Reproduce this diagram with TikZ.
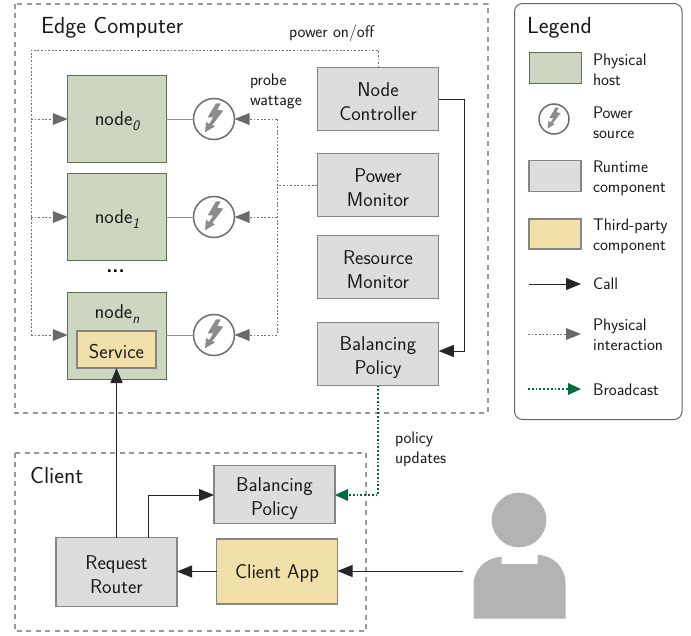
\documentclass[tikz,border=0pt]{standalone}
\usepackage{fontspec}
\setsansfont{Latin Modern Sans}
\usetikzlibrary{arrows.meta}
\definecolor{hostfill}{HTML}{CDD6C0}
\definecolor{hostline}{HTML}{5F6F50}
\definecolor{rtfill}{HTML}{DDDDDD}
\definecolor{rtline}{HTML}{858585}
\definecolor{tpfill}{HTML}{F1E0AA}
\definecolor{grn}{HTML}{006B3C}
\definecolor{boltgrey}{HTML}{8C8C8C}
\definecolor{ringgrey}{HTML}{6E6E6E}
\definecolor{arrgrey}{HTML}{6A6A6A}
\definecolor{boxdash}{HTML}{999999}
\definecolor{usergrey}{HTML}{B3B3B3}
\tikzset{
  x=1pt,y=-1pt,
  every node/.style={font=\sffamily,inner sep=0pt,outer sep=0pt},
  sized/.style 2 args={minimum width=#1pt,minimum height=#2pt},
  lab/.style={font=\sffamily\fontsize{20}{24}\selectfont,align=center,text=black!90},
  down/.style={execute at begin node={\rule{0pt}{18pt}}},
  downtwo/.style={execute at begin node={\rule[-4pt]{0pt}{50pt}}},
  small/.style={font=\sffamily\fontsize{16.8}{20}\selectfont,align=left,anchor=west,text=black!90},
  title/.style={font=\sffamily\fontsize{23.3}{26}\selectfont,anchor=base west,text=black!90},
  host/.style={draw=hostline,fill=hostfill,line width=1pt,lab},
  rt/.style={draw=rtline,fill=rtfill,line width=1.2pt,lab},
  rtt/.style={rt,downtwo},
  tp/.style={draw=rtline,fill=tpfill,line width=1.2pt,lab,down},
  zone/.style={draw=boxdash,line width=2pt,dash pattern=on 5pt off 4.5pt},
  call/.style={draw=black!85,line width=1pt,-{Triangle[length=15pt,width=12pt,fill=black!85]}},
  phys/.style={draw=black!55,line width=.9pt,dash pattern=on 1.8pt off 1.8pt},
  physa/.style={phys,-{Triangle[length=15pt,width=12pt,color=arrgrey,fill=arrgrey,line width=0pt]}},
  wire/.style={draw=black!45,line width=1pt},
  cast/.style={draw=grn,line width=1.6pt,dash pattern=on 1.8pt off 2pt,-{Triangle[length=13pt,width=12pt,color=grn,fill=grn,line width=0pt]}},
  ring/.style={circle,draw=ringgrey,line width=1.5pt,fill=white},
}
\newcommand{\pbolt}[3]{%
  \fill[boltgrey,shift={(#1,#2)},scale=#3]
   (2,-15.7) -- (6.7,-15.7) -- (3.3,-9.3) -- (9.3,-8.3) -- (-1.7,6) -- (1,7.3) -- (-9,13.3) -- (-8,2.7) -- (-5,5) -- (-0.7,-1.7) -- (-6.3,-1.7) -- cycle;
}
\newcommand{\subit}[1]{\raisebox{-.25em}{\fontsize{14.5}{14.5}\selectfont\itshape #1}}
\begin{document}
\begin{tikzpicture}
\useasboundingbox (0,0) rectangle (691,635);
\fill[white] (0,0) rectangle (691,635);
% zones
\draw[zone] (14.5,3.5) rectangle (487.5,413);
\draw[zone] (14.5,452.5) rectangle (366,631);
\node[title] (tedge) at (41,33) {Edge Computer};
\node[title] (tclient) at (30,483) {Client};
% hosts
\node[host,down,sized={98.5}{86.5}] (n0) at (117,119) {node\subit{0}};
\node[host,down,sized={98.5}{86.5}] (n1) at (117,217) {node\subit{1}};
\node[host,sized={98.5}{87}] (nn) at (117,335.5) {};
\node[lab] (nnlab) at (117,314) {node\subit{n}};
\node[tp,sized={79}{37}] (svc) at (116.5,349.5) {Service};
\node[font=\sffamily\bfseries\fontsize{20}{20}\selectfont] (dots) at (115.5,271) {...};
% power
\node[ring,minimum size=41pt] (p0) at (214,119) {};
\node[ring,minimum size=41pt] (p1) at (214,217) {};
\node[ring,minimum size=41pt] (pn) at (214,335) {};
\pbolt{214}{119}{1}
\pbolt{214}{217}{1}
\pbolt{214}{335}{1}
% runtime
\node[rtt,sized={121.5}{63}] (nc) at (378,99) {Node\\Controller};
\node[rtt,sized={121.5}{63}] (pm) at (378,185) {Power\\Monitor};
\node[rtt,sized={121.5}{63}] (rm) at (378,267) {Resource\\Monitor};
\node[rtt,sized={121.5}{63}] (bp) at (378,354) {Balancing\\Policy};
\node[rtt,sized={121}{58.5}] (cbp) at (274.5,494.5) {Balancing\\Policy};
\node[rtt,sized={121}{68.5}] (rr) at (116.5,572) {Request\\Router};
\node[tp,sized={121}{65}] (app) at (277,571.5) {Client App};
% wires
\draw[wire] (n0.east) -- (p0.west);
\draw[wire] (n1.east) -- (p1.west);
\draw[wire] (nn.east |- pn.west) -- (pn.west);
% physical
\coordinate (ptop) at (31,50);
\coordinate (pbot) at (31,335);
\coordinate (pright) at (277,185);
\draw[phys] (nc.north) -- (nc.north |- ptop) -- (ptop) -- (pbot);
\draw[physa] (31,119) -- (n0.west);
\draw[physa] (31,217) -- (n1.west);
\draw[physa] (pbot) -- (nn.west |- pbot);
\draw[phys] (pm.west) -- (pright);
\draw[phys] (277,119) -- (277,335);
\draw[physa] (277,119) -- (p0.east);
\draw[physa] (277,217) -- (p1.east);
\draw[physa] (277,335) -- (pn.east);
% calls
\draw[call] (nc.east) -- (464.5,99) -- (464.5,351) -- (bp.east |- 0,351);
\draw[call] (rr.north) -- (svc.south);
\draw[call] (148,537.5) -- (148,495) -- (cbp.west |- 0,495);
\draw[call] (app.west) -- (rr.east |- app.west);
\coordinate (userarm) at (463,571);
\draw[call] (userarm) -- (app.east |- userarm);
\draw[cast] (bp.south) -- (378,495) -- (cbp.east |- 0,495);
% labels
\node[small] (lpow) at (289,33) {power on/off};
\node[small] (lprobe) at (250,91.5) {probe\\wattage};
\node[small] (lupd) at (395,449) {policy\\updates};
% user
\fill[usergrey] (519,520) circle (27.3);
\fill[usergrey] (473.5,618.7) -- (473.5,585) arc[start angle=180,end angle=270,radius=28] -- (501.5,555) -- (501.5,564) -- (537.5,564) -- (537.5,555) arc[start angle=-90,end angle=0,radius=28] -- (565.5,618.7) -- cycle;
% legend
\draw[draw=black!60,line width=1pt,rounded corners=8pt] (514.5,3.5) rectangle (682,419.5);
\node[title] (tleg) at (527,33) {Legend};
\node[host,sized={52}{30.5}] (l1) at (555,68) {};
\node[ring,minimum size=30pt] (l2) at (554,119) {};
\pbolt{554}{119}{.72}
\node[rt,sized={52}{31.5}] (l3) at (555,176) {};
\node[tp,sized={52}{30}] (l4) at (555,234) {};
\coordinate (c1a) at (529,284);\coordinate (c1b) at (581,284);
\coordinate (c2a) at (528,334);\coordinate (c2b) at (581,334);
\coordinate (c3a) at (528,389);\coordinate (c3b) at (581,389);
\draw[call] (c1a) -- (c1b);
\draw[physa] (c2a) -- (c2b);
\draw[cast] (c3a) -- (c3b);
\node[small] (t1) at (593,70) {Physical\\host};
\node[small] (t2) at (593,123) {Power\\source};
\node[small] (t3) at (593,178) {Runtime\\component};
\node[small] (t4) at (593,236) {Third-party\\component};
\node[small] (t5) at (593,284) {Call};
\node[small] (t6) at (593,335) {Physical\\interaction};
\node[small] (t7) at (593,390) {Broadcast};
\end{tikzpicture}
\end{document}
